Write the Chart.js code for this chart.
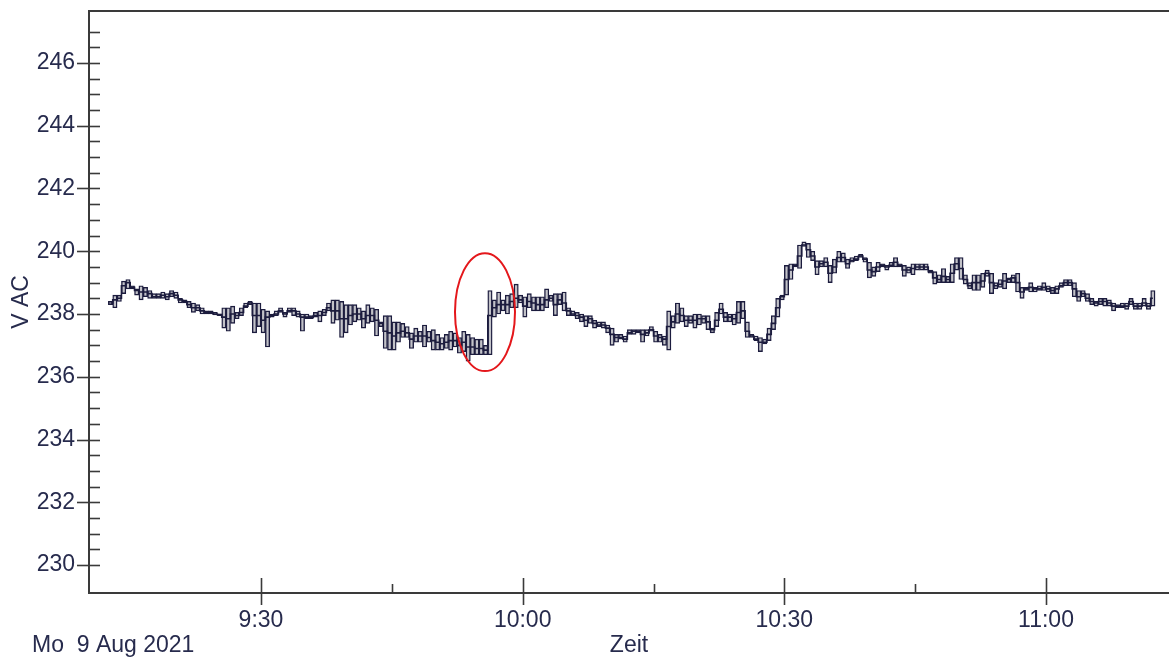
<!DOCTYPE html>
<html>
<head>
<meta charset="utf-8">
<script src="https://cdn.jsdelivr.net/npm/chart.js@4.4.0/dist/chart.umd.min.js"></script>
<style>
  html, body { margin: 0; padding: 0; background: #fff; }
  #wrap { width: 1169px; height: 659px; }
</style>
</head>
<body>
<div id="wrap"><canvas id="spannung"></canvas></div>
<script>
// Spannung V AC, 30-s-Intervalle ab 9:12:30 (Minuten nach 9:00)
const startMin = 12.5;
const stepMin = 0.5;
const datum = "Mo  9 Aug 2021";

// Minimum je Intervall
const vMin = [
  238.3, 238.2, 238.4, 238.65, 238.8, 238.8, 238.6, 238.45, 238.55, 238.5, 238.5, 238.5, 238.5, 238.45, 238.55, 238.5, 238.35, 238.35, 238.2, 238.05,
  238.1, 238.0, 238.0, 238.0, 237.97, 237.95, 237.55, 237.45, 237.7, 237.85, 237.95, 238.2, 238.3, 237.4, 237.6, 237.4, 236.95, 237.9, 237.95, 238.05,
  237.9, 238.05, 237.95, 237.9, 237.45, 237.85, 237.85, 237.9, 237.75, 237.95, 238.1, 237.7, 237.8, 237.25, 237.4, 237.65, 237.75, 237.8, 237.55, 237.7,
  237.75, 237.3, 237.6, 236.9, 236.85, 236.85, 237.1, 237.25, 237.25, 236.9, 237.1, 237.1, 236.95, 237.1, 236.85, 236.85, 236.85, 236.9, 236.85, 236.95,
  236.75, 236.8, 236.5, 236.7, 236.7, 236.7, 236.7, 236.7, 237.9, 238.0, 238.1, 238.0, 238.2, 238.2, 238.35, 237.9, 238.2, 238.1, 238.1, 238.1,
  238.2, 238.4, 237.95, 238.3, 238.1, 237.95, 237.95, 237.85, 237.75, 237.6, 237.7, 237.55, 237.6, 237.55, 237.4, 237.0, 237.1, 237.2, 237.1, 237.35,
  237.35, 237.4, 237.1, 237.3, 237.45, 237.1, 237.1, 237.0, 236.85, 237.55, 237.7, 237.75, 237.6, 237.7, 237.55, 237.65, 237.7, 237.5, 237.4, 237.6,
  238.0, 237.75, 237.75, 237.65, 237.7, 237.85, 237.25, 237.25, 237.15, 236.8, 237.05, 237.15, 237.5, 237.9, 238.45, 238.6, 239.1, 239.5, 239.45, 240.15,
  239.8, 239.7, 239.25, 239.5, 239.5, 239.0, 239.3, 239.65, 239.65, 239.45, 239.65, 239.7, 239.8, 239.65, 239.15, 239.2, 239.35, 239.5, 239.4, 239.5,
  239.5, 239.5, 239.2, 239.3, 239.25, 239.4, 239.4, 239.4, 239.3, 238.95, 239.0, 239.0, 239.0, 239.0, 239.4, 239.1, 238.95, 238.8, 238.75, 238.75,
  238.85, 239.2, 238.65, 238.8, 238.85, 238.8, 239.0, 239.0, 238.7, 238.5, 238.75, 238.7, 238.7, 238.75, 238.75, 238.7, 238.65, 238.65, 238.85, 238.9,
  238.9, 238.55, 238.4, 238.55, 238.4, 238.3, 238.25, 238.3, 238.25, 238.25, 238.1, 238.2, 238.2, 238.15, 238.3, 238.15, 238.15, 238.25, 238.15, 238.25
];

// Maximum je Intervall
const vMax = [
  238.4, 238.6, 238.6, 239.05, 239.1, 238.9, 238.8, 238.9, 238.85, 238.75, 238.65, 238.65, 238.7, 238.65, 238.75, 238.7, 238.5, 238.45, 238.4, 238.35,
  238.3, 238.2, 238.1, 238.1, 238.05, 238.0, 238.2, 238.2, 238.25, 238.05, 238.2, 238.35, 238.4, 238.35, 238.35, 238.15, 238.1, 238.0, 238.1, 238.2,
  238.05, 238.2, 238.2, 238.1, 238.0, 238.0, 237.95, 238.05, 238.1, 238.15, 238.35, 238.45, 238.45, 238.4, 238.3, 238.3, 238.3, 238.2, 238.1, 238.3,
  238.2, 238.15, 237.75, 237.95, 237.95, 237.75, 237.75, 237.7, 237.6, 237.4, 237.55, 237.45, 237.65, 237.45, 237.5, 237.35, 237.25, 237.35, 237.45, 237.4,
  237.25, 237.45, 237.35, 237.25, 237.2, 237.2, 237.0, 238.75, 238.45, 238.7, 238.45, 238.6, 238.65, 238.95, 238.6, 238.55, 238.65, 238.55, 238.55, 238.55,
  238.8, 238.6, 238.65, 238.65, 238.7, 238.2, 238.1, 238.05, 238.0, 237.95, 237.95, 237.8, 237.75, 237.75, 237.65, 237.55, 237.35, 237.35, 237.3, 237.5,
  237.5, 237.5, 237.5, 237.5, 237.6, 237.45, 237.35, 237.3, 238.1, 237.95, 238.35, 238.2, 237.95, 237.95, 238.0, 238.0, 237.95, 237.95, 237.55, 238.05,
  238.35, 238.05, 238.0, 238.0, 238.4, 238.4, 237.75, 237.35, 237.3, 237.25, 237.2, 237.55, 237.95, 238.5, 238.6, 239.55, 239.6, 239.6, 240.2, 240.3,
  240.25, 240.0, 239.7, 239.7, 239.8, 239.55, 239.75, 240.0, 239.95, 239.75, 239.8, 239.85, 239.9, 239.8, 239.65, 239.5, 239.65, 239.6, 239.55, 239.65,
  239.8, 239.6, 239.55, 239.5, 239.6, 239.6, 239.6, 239.6, 239.4, 239.35, 239.25, 239.45, 239.2, 239.6, 239.8, 239.8, 239.25, 239.0, 239.25, 239.25,
  239.3, 239.4, 239.3, 239.0, 239.1, 239.3, 239.15, 239.25, 239.3, 238.85, 238.85, 239.0, 238.85, 238.9, 239.0, 238.9, 238.85, 238.9, 239.0, 239.1,
  239.1, 239.0, 238.75, 238.75, 238.65, 238.5, 238.4, 238.5, 238.5, 238.45, 238.35, 238.3, 238.35, 238.35, 238.5, 238.35, 238.35, 238.5, 238.35, 238.75
];

// Mittelwert je Intervall
const vMean = [
  238.35, 238.45, 238.5, 238.9, 239.0, 238.85, 238.75, 238.7, 238.7, 238.65, 238.55, 238.55, 238.6, 238.55, 238.65, 238.6, 238.45, 238.4, 238.3, 238.2,
  238.2, 238.1, 238.05, 238.05, 238.0, 237.98, 237.9, 237.85, 238.0, 237.95, 238.05, 238.25, 238.35, 237.95, 237.95, 237.8, 237.9, 237.95, 238.0, 238.1,
  238.0, 238.1, 238.1, 238.0, 237.9, 237.9, 237.9, 237.95, 237.95, 238.05, 238.2, 238.1, 238.1, 237.85, 237.85, 237.95, 238.0, 238.0, 237.85, 237.95,
  237.95, 237.8, 237.7, 237.45, 237.4, 237.3, 237.4, 237.45, 237.4, 237.2, 237.3, 237.3, 237.3, 237.25, 237.15, 237.1, 237.05, 237.1, 237.15, 237.15,
  237.0, 237.1, 236.95, 236.95, 236.9, 236.9, 236.85, 237.95, 238.2, 238.3, 238.3, 238.3, 238.4, 238.5, 238.45, 238.25, 238.4, 238.35, 238.3, 238.3,
  238.45, 238.5, 238.3, 238.45, 238.35, 238.1, 238.0, 237.95, 237.9, 237.8, 237.85, 237.7, 237.65, 237.65, 237.55, 237.35, 237.25, 237.25, 237.2, 237.4,
  237.45, 237.45, 237.35, 237.4, 237.5, 237.3, 237.25, 237.2, 237.6, 237.75, 238.0, 237.95, 237.8, 237.8, 237.8, 237.85, 237.85, 237.75, 237.5, 237.8,
  238.15, 237.9, 237.9, 237.85, 238.05, 238.1, 237.45, 237.3, 237.2, 237.1, 237.1, 237.35, 237.7, 238.2, 238.55, 239.1, 239.4, 239.55, 239.85, 240.2,
  240.05, 239.85, 239.5, 239.6, 239.65, 239.3, 239.5, 239.8, 239.8, 239.6, 239.7, 239.75, 239.85, 239.75, 239.4, 239.35, 239.5, 239.55, 239.5, 239.55,
  239.65, 239.55, 239.4, 239.4, 239.45, 239.5, 239.5, 239.5, 239.35, 239.15, 239.1, 239.2, 239.1, 239.3, 239.6, 239.45, 239.1, 238.9, 239.0, 239.0,
  239.05, 239.3, 239.0, 238.9, 238.95, 239.05, 239.1, 239.15, 239.0, 238.7, 238.8, 238.85, 238.8, 238.8, 238.85, 238.8, 238.75, 238.8, 238.9, 239.0,
  239.0, 238.8, 238.55, 238.65, 238.5, 238.4, 238.35, 238.4, 238.4, 238.35, 238.25, 238.25, 238.25, 238.25, 238.4, 238.25, 238.25, 238.35, 238.25, 238.5
];

// Achsen
const xRange = [10.28, 134.1];
const yRange = [229.108, 247.657];
const xTickStep = 15;   // Striche alle 15 min, Beschriftung alle 30 min
const yTickStep = 0.5;  // Striche alle 0.5 V, Beschriftung alle 2 V

// rote Markierung um den Sprung
const markierung = { t: 55.68, v: 238.06, dt: 3.44, dv: 1.88 };

const dunkel = "#1c1c3e";
const textFarbe = "#272b4d";
const schrift = "'Liberation Sans', Arial, sans-serif";

const mitte = i => startMin + stepMin * i + stepMin / 2;
const boxen = vMin.map((lo, i) => ({ x: mitte(i), y: [lo, vMax[i]] }));
const mittel = vMean.map((v, i) => ({ x: mitte(i), y: v }));

function zeitText(t) {
  const h = 9 + Math.floor(t / 60);
  const m = Math.round(t % 60);
  return h + ":" + String(m).padStart(2, "0");
}

// keine zusaetzlichen Raender um die Achsen
function ohnePadding(s) {
  s.paddingTop = 0;
  s.paddingBottom = 0;
  s.paddingLeft = 0;
  s.paddingRight = 0;
}

const rahmen = {
  id: "rahmen",
  afterDatasetsDraw(chart) {
    const { ctx, chartArea: a, scales: { x, y } } = chart;
    ctx.save();
    // Markierung
    const cx = x.getPixelForValue(markierung.t);
    const cy = y.getPixelForValue(markierung.v);
    const rx = x.getPixelForValue(markierung.t + markierung.dt) - cx;
    const ry = cy - y.getPixelForValue(markierung.v + markierung.dv);
    ctx.strokeStyle = "#e4171b";
    ctx.lineWidth = 2;
    ctx.beginPath();
    ctx.ellipse(cx, cy, rx, ry, 0, 0, Math.PI * 2);
    ctx.stroke();

    // Rahmen oben
    ctx.strokeStyle = "#3a3a3a";
    ctx.lineWidth = 2;
    ctx.beginPath();
    ctx.moveTo(a.left, a.top);
    ctx.lineTo(a.right, a.top);
    ctx.stroke();

    // Striche an den Achsen
    ctx.lineWidth = 1.6;
    y.ticks.forEach(tk => {
      const v = tk.value;
      if (Math.abs(v * 2 - Math.round(v * 2)) > 1e-6) return;
      const py = Math.round(y.getPixelForValue(v)) + 0.5;
      const major = Math.abs(v % 2) < 1e-6;
      ctx.beginPath();
      ctx.moveTo(major ? a.left - 12 : a.left, py);
      ctx.lineTo(a.left + 11, py);
      ctx.stroke();
    });
    x.ticks.forEach(tk => {
      const t = tk.value;
      if (Math.abs(t % xTickStep) > 1e-6) return;
      const px = Math.round(x.getPixelForValue(t)) + 0.5;
      const major = Math.abs(t % 30) < 1e-6;
      ctx.beginPath();
      ctx.moveTo(px, major ? a.bottom - 15 : a.bottom - 9);
      ctx.lineTo(px, major ? a.bottom + 12 : a.bottom);
      ctx.stroke();
    });

    // Datum unten links
    ctx.fillStyle = textFarbe;
    ctx.font = "23px " + schrift;
    ctx.textBaseline = "middle";
    ctx.textAlign = "left";
    ctx.fillText(datum, 32, 646);
    ctx.restore();
  }
};

new Chart(document.getElementById("spannung"), {
  data: {
    datasets: [
      {
        type: "line",
        data: mittel,
        stepped: "middle",
        borderColor: dunkel,
        borderWidth: 1.6,
        pointRadius: 0,
        order: 0
      },
      {
        type: "bar",
        data: boxen,
        backgroundColor: "#c2c2c8",
        borderColor: dunkel,
        borderWidth: 1.4,
        borderSkipped: false,
        barPercentage: 1,
        categoryPercentage: 1,
        order: 1
      }
    ]
  },
  options: {
    responsive: true,
    maintainAspectRatio: false,
    animation: false,
    layout: { padding: { top: 11, right: 0, left: 0, bottom: 0 } },
    plugins: { legend: { display: false }, tooltip: { enabled: false } },
    scales: {
      x: {
        type: "linear",
        offset: false,
        min: xRange[0],
        max: xRange[1],
        afterFit: s => { s.height = 66; ohnePadding(s); },
        grid: { display: false, drawTicks: false, offset: false },
        border: { display: true, color: "#3a3a3a", width: 2 },
        ticks: {
          stepSize: xTickStep,
          autoSkip: false,
          maxRotation: 0,
          padding: 14,
          color: textFarbe,
          font: { family: schrift, size: 23 },
          callback: v => (Math.abs(v % 30) < 1e-6 ? zeitText(v) : "")
        },
        title: {
          display: true,
          text: "Zeit",
          color: textFarbe,
          padding: 0,
          font: { family: schrift, size: 23 }
        }
      },
      y: {
        type: "linear",
        min: yRange[0],
        max: yRange[1],
        afterFit: s => { s.width = 89; ohnePadding(s); },
        grid: { display: false, drawTicks: false },
        border: { display: true, color: "#3a3a3a", width: 2 },
        ticks: {
          stepSize: yTickStep,
          autoSkip: false,
          padding: 14,
          color: textFarbe,
          font: { family: schrift, size: 23 },
          callback: v => (Math.abs(v % 2) < 1e-6 ? String(v) : "")
        },
        title: {
          display: true,
          text: "V AC",
          color: textFarbe,
          padding: 8,
          font: { family: schrift, size: 23 }
        }
      }
    }
  },
  plugins: [rahmen]
});
</script>
</body>
</html>
